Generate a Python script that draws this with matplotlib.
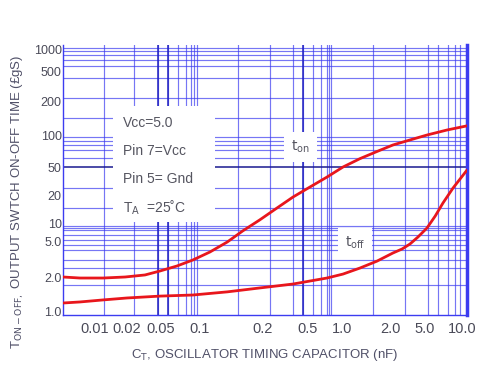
import numpy as np
import matplotlib
matplotlib.use('Agg')
import matplotlib.pyplot as plt
from matplotlib.patches import Rectangle
from matplotlib.ticker import FixedLocator, NullFormatter

# values (capacitance in nF, time in us)
cap_on = [0.005, 0.00722, 0.0119, 0.0192, 0.0325, 0.0486, 0.0665, 0.088, 0.1116, 0.135,
          0.160, 0.193, 0.266, 0.368, 0.521, 0.737, 1.015, 1.297, 1.657, 2.16, 3.37,
          5.19, 7.55, 10.5]
t_on = [2.0, 1.96, 1.96, 2.0, 2.11, 2.34, 2.67, 3.12, 3.85, 5.0,
        7.49, 10.8, 14.5, 19.0, 26.0, 36.0, 50.0, 60.3, 70.7, 81.8, 91.5,
        102, 113, 123]
cap_off = [0.005, 0.00722, 0.0119, 0.02, 0.0486, 0.088, 0.135, 0.193, 0.368, 0.737,
           1.015, 1.297, 1.657, 2.16, 2.74, 3.37, 4.16, 5.19, 6.06, 7.0, 8.45, 10.5]
t_off = [1.195, 1.22, 1.27, 1.32, 1.37, 1.40, 1.49, 1.61, 1.74, 1.96,
         2.16, 2.53, 3.03, 3.75, 4.16, 4.74, 6.0, 8.34, 11.9, 16.4, 25.1, 45.2]

x_ticks = [0.01, 0.02, 0.05, 0.1, 0.2, 0.5, 1.0, 2.0, 5.0, 10.0]
x_labels = ['0.01', '0.02', '0.05', '0.1', '0.2', '0.5', '1.0', '2.0', '5.0', '10.0']
y_ticks = [1, 2, 5, 10, 20, 50, 100, 200, 500, 1000]
y_labels = ['1.0', '2.0', '5.0', '10', '20', '50', '100', '200', '500', '1000']

# the printed axes are not true log axes: where each value sits (px from frame edge)
x_anchor = [0.005, 0.01, 0.02, 0.05, 0.1, 0.2, 0.5, 1, 2, 5, 10, 10.5]
x_px = [0, 32, 64, 98, 137, 200, 245, 279, 327, 362, 399, 404]
y_anchor = [0.943, 1, 2, 5, 10, 20, 50, 100, 200, 500, 1000, 1170]
y_px = [0, 3, 38, 73, 92, 120, 148, 179, 213, 243, 265, 270]

# grid lines of the printed sheet (px from left / bottom edge of the frame)
vgrid_px = [41, 71, 95, 105, 115, 123, 128, 131, 134, 175, 207, 230, 240, 250, 258,
            264, 266, 268, 310, 342, 365, 375, 385, 392, 397]
hgrid_px = [267, 264, 260, 255, 249, 237, 217, 197, 178, 174, 170, 165, 157, 148, 127,
            107, 89, 87, 85, 80, 75, 70, 65, 55, 47, 30]


def make_scale(anchor, px):
    la = np.log10(anchor)

    def fwd(v):
        v = np.clip(np.asarray(v, dtype=float), 1e-9, None)
        return np.interp(np.log10(v), la, px)

    def inv(p):
        return 10 ** np.interp(np.asarray(p, dtype=float), px, la)
    return fwd, inv


fx, ix = make_scale(x_anchor, x_px)
fy, iy = make_scale(y_anchor, y_px)

grid_c = '#3c3cf0'
text_c = '#4a4a58'

fig = plt.figure(figsize=(4.78, 3.82), dpi=100)
ax = fig.add_axes([63 / 478, 1 - 315 / 382, 404 / 478, 270 / 382])
ax.set_xscale('function', functions=(fx, ix))
ax.set_yscale('function', functions=(fy, iy))
ax.set_xlim(x_anchor[0], x_anchor[-1])
ax.set_ylim(y_anchor[0], y_anchor[-1])

ax.xaxis.set_major_locator(FixedLocator(x_ticks))
ax.set_xticklabels(x_labels)
ax.yaxis.set_major_locator(FixedLocator(y_ticks))
ax.set_yticklabels(y_labels)
ax.xaxis.set_minor_locator(FixedLocator(ix(vgrid_px)))
ax.yaxis.set_minor_locator(FixedLocator(iy(hgrid_px)))
ax.xaxis.set_minor_formatter(NullFormatter())
ax.yaxis.set_minor_formatter(NullFormatter())
ax.tick_params(which='both', length=0)
ax.tick_params(axis='x', pad=5, labelsize=10.5, labelcolor=text_c)
ax.tick_params(axis='y', pad=1, labelsize=9, labelcolor=text_c)
for lab in ax.get_xticklabels() + ax.get_yticklabels():
    lab.set_family(['Liberation Sans', 'DejaVu Sans'])

ax.set_axisbelow(True)
ax.grid(which='minor', color=grid_c, lw=0.85, alpha=0.7)
ax.grid(which='major', visible=False)
for v in ix([95, 105, 240]):
    ax.axvline(v, color='#2020c0', lw=1.1, zorder=0.6)
ax.axhline(iy(148), color='#1a1a90', lw=1.1, zorder=0.6)

for s in ax.spines.values():
    s.set_color(grid_c)
    s.set_linewidth(1.0)
ax.spines['right'].set_linewidth(2.5)
ax.spines['top'].set_visible(False)

ax.plot(cap_on, t_on, color='#e8161c', lw=2.0, zorder=3, solid_capstyle='round')
ax.plot(cap_off, t_off, color='#e8161c', lw=2.0, zorder=3, solid_capstyle='round')

# white panel with test conditions
ax.add_patch(Rectangle((0.124, 0.344), 0.252, 0.43, transform=ax.transAxes,
                       fc='white', ec='none', zorder=1))
cond = ['Vcc=5.0', 'Pin 7=Vcc', 'Pin 5= Gnd', r'T$_{\rm A}$  =25˚C']
cond_y = [0.711, 0.607, 0.504, 0.396]
for s, yy in zip(cond, cond_y):
    ax.text(0.148, yy, s, transform=ax.transAxes, fontsize=10, color='#555560',
            va='center', ha='left', family=['Liberation Sans', 'DejaVu Sans'], zorder=4)

ax.text(0.587, 0.622, r't$_{\rm on}$', transform=ax.transAxes, fontsize=10,
        color='#555560', ha='center', va='center', zorder=4,
        bbox=dict(fc='white', ec='none', pad=5))
ax.text(0.723, 0.267, r't$_{\rm off}$', transform=ax.transAxes, fontsize=10,
        color='#555560', ha='center', va='center', zorder=4,
        bbox=dict(fc='white', ec='none', pad=5))

fig.text(265 / 478, 1 - 355 / 382, r'C$_{\rm T}$, OSCILLATOR TIMING CAPACITOR (nF)',
         ha='center', va='center', fontsize=9.5, color='#505068',
         family=['Liberation Sans', 'DejaVu Sans'])
fig.text(18 / 478, 1 - 202 / 382, r'T$_{\rm ON-OFF,}$ OUTPUT SWTCH ON-OFF TIME (£gS)',
         rotation=90, ha='center', va='center', fontsize=9.5, color='#505068',
         family=['Liberation Sans', 'DejaVu Sans'])

fig.savefig('out.png', dpi=100)
